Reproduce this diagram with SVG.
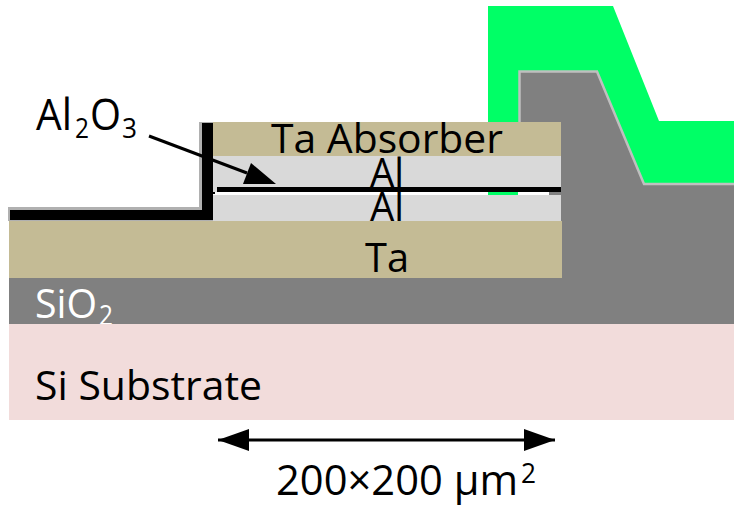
<svg xmlns="http://www.w3.org/2000/svg" width="734" height="505" viewBox="0 0 734 505">
<style>
text{font-family:"Open Sans","Noto Sans",sans-serif;font-size:40px;fill:#000}
.sub{font-size:28px}
.big{font-size:44px}
.dim{font-size:42px}
.ta{fill:#c4bb95}
.al{fill:#d9d9d9}
.wht{fill:#fff}
.edge{fill:none;stroke:#bfbfbf;stroke-width:2.5}
.conn{fill:none;stroke:#000;stroke-width:3}
</style>
<defs>
<marker id="head" markerUnits="userSpaceOnUse" markerWidth="32" markerHeight="22" refX="31" refY="11" orient="auto-start-reverse" overflow="visible"><path d="M0 0L31 11L0 22Z" fill="#000"/></marker>
</defs>
<rect width="734" height="505" fill="#fff"/>
<g id="contact">
<path d="M488 6H613L659 121H734V186H644L597 72H519V122H488Z" fill="#00ff66"/>
</g>
<g id="sio2">
<path d="M519 72H597L644 184H734V324H9V278H519Z" fill="#808080"/>
<path class="edge" d="M519.5 122V71.5H597L644 184H734"/>
<text class="wht" x="35" y="318" textLength="62" lengthAdjust="spacingAndGlyphs">SiO</text>
<text class="sub wht" x="99" y="325" textLength="14" lengthAdjust="spacingAndGlyphs">2</text>
</g>
<g id="si-substrate">
<rect x="9" y="324" width="725" height="96" fill="#f2dcdb"/>
<text x="35" y="400" textLength="227" lengthAdjust="spacingAndGlyphs">Si Substrate</text>
</g>
<g id="ta-base">
<rect class="ta" x="9" y="221" width="553" height="57"/>
<text x="365" y="272" textLength="44" lengthAdjust="spacingAndGlyphs">Ta</text>
</g>
<g id="al-layers">
<rect class="al" x="213" y="156" width="348" height="36"/>
<rect x="213" y="192" width="348" height="3" fill="#fff"/>
<rect x="488" y="192" width="30" height="3" fill="#00ff66"/>
<rect x="549" y="192" width="12" height="3" fill="#808080"/>
<rect class="al" x="213" y="195" width="348" height="26"/>
<text x="370" y="187" textLength="34" lengthAdjust="spacingAndGlyphs">Al</text>
<text x="370" y="221" textLength="34" lengthAdjust="spacingAndGlyphs">Al</text>
</g>
<g id="ta-absorber">
<rect class="ta" x="213" y="122" width="348" height="34"/>
<text x="271" y="153" textLength="232" lengthAdjust="spacingAndGlyphs">Ta Absorber</text>
</g>
<g id="al2o3">
<path d="M8 221V207H199V122H213V221Z" fill="#b0b0b0"/>
<path d="M10 220V210H202V123H213V220Z" fill="#000"/>
<rect x="217" y="187" width="344" height="5" fill="#000"/>
<rect x="213" y="192" width="2" height="2" fill="#000"/>
<text class="big" x="36" y="130" textLength="36" lengthAdjust="spacingAndGlyphs">Al</text>
<text x="75" y="138" class="sub" textLength="14" lengthAdjust="spacingAndGlyphs">2</text>
<text class="big" x="90" y="130" textLength="31" lengthAdjust="spacingAndGlyphs">O</text>
<text x="122" y="138" class="sub" textLength="15" lengthAdjust="spacingAndGlyphs">3</text>
</g>
<g id="connectors">
<path class="conn" d="M149 136L247 173"/>
<path d="M243 184L251 163L276 184Z" fill="#000"/>
<path class="conn" d="M218 440H555" marker-start="url(#head)" marker-end="url(#head)"/>
</g>
<g id="dimension">
<text class="dim" x="276" y="495" textLength="242" lengthAdjust="spacingAndGlyphs">200×200 µm</text>
<text x="521" y="483" class="sub" textLength="15" lengthAdjust="spacingAndGlyphs">2</text>
</g>
</svg>
